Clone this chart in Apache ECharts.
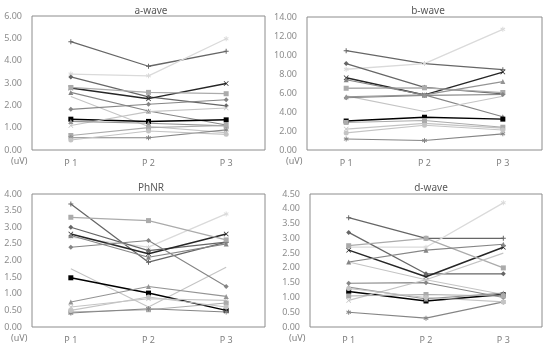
<!DOCTYPE html>
<html>
<head>
<meta charset="utf-8">
<script src="https://cdn.jsdelivr.net/npm/echarts@6/dist/echarts.min.js"></script>
<style>
  html, body { margin: 0; padding: 0; background: #ffffff; }
  #chart { width: 550px; height: 347px; }
</style>
</head>
<body>
<div id="chart"></div>
<script>
  // categories
  const points = ['P 1', 'P 2', 'P 3'];

  // one row per eye: values at P1, P2, P3 (uV)
  const aWave = [
    [4.85, 3.75, 4.42], [3.40, 3.32, 4.98], [3.27, 2.38, 1.98], [2.78, 2.30, 2.98],
    [2.80, 2.58, 2.52], [2.58, 1.75, 1.12], [2.40, 1.05, 0.78], [1.82, 2.05, 2.25],
    [1.38, 1.28, 1.35], [1.10, 1.72, 1.88], [1.28, 1.20, 1.08], [0.65, 1.00, 1.10],
    [0.55, 0.55, 0.90], [0.45, 0.85, 0.70]
  ];
  const bWave = [
    [10.45, 9.10, 8.45], [8.50, 9.10, 12.70], [9.10, 6.60, 5.90], [7.60, 5.80, 8.20],
    [6.50, 6.55, 6.05], [7.40, 5.80, 3.50], [5.70, 4.05, 5.65], [5.50, 5.75, 5.85],
    [3.05, 3.45, 3.25], [2.20, 2.80, 2.30], [5.60, 5.80, 7.20], [2.90, 3.10, 2.40],
    [1.15, 1.00, 1.70], [1.80, 2.60, 2.10]
  ];
  const phnr = [
    [3.70, 1.95, 2.55], [2.70, 2.40, 3.40], [3.00, 2.30, 2.55], [2.80, 2.20, 2.80],
    [3.30, 3.20, 2.62], [2.75, 2.10, 2.50], [1.75, 0.60, 1.80], [2.40, 2.60, 1.22],
    [1.48, 1.02, 0.50], [0.60, 0.85, 0.80], [0.75, 1.22, 0.92], [0.45, 0.52, 0.72],
    [0.42, 0.55, 0.45], [0.50, 0.90, 0.60]
  ];
  const dWave = [
    [3.70, 3.00, 3.00], [2.70, 2.70, 4.20], [3.20, 1.80, 1.80], [2.60, 1.70, 2.70],
    [2.75, 3.00, 2.00], [2.20, 2.60, 2.80], [2.20, 1.60, 2.50], [1.48, 1.50, 1.00],
    [1.20, 0.88, 1.10], [0.90, 1.60, 1.10], [1.35, 0.95, 1.15], [1.05, 1.10, 1.05],
    [0.50, 0.30, 0.85], [1.30, 1.00, 0.85]
  ];

  const plus = 'path://M4,0h2v4h4v2h-4v4h-2v-4h-4v-2h4z';
  const cross = 'path://M1,0L5,4L9,0L10,1L6,5L10,9L9,10L5,6L1,10L0,9L4,5L0,1z';
  const star = 'path://M4,0h2v3.5l3-2l1,1.7l-3,1.8l3,1.8l-1,1.7l-3-2v3.5h-2v-3.5l-3,2l-1-1.7l3-1.8l-3-1.8l1-1.7l3,2z';

  const lineColors = ['#666666', '#dadada', '#666666', '#262626', '#ababab', '#858585', '#c4c4c4',
                      '#858585', '#000000', '#c4c4c4', '#949494', '#ababab', '#858585', '#c4c4c4'];
  const lineSymbols = [plus, star, 'diamond', cross, 'rect', 'triangle', 'none',
                       'diamond', 'rect', cross, 'triangle', 'rect', star, 'circle'];
  const lineWidths = [1.3, 1.3, 1.3, 1.5, 1.3, 1.1, 1.1, 1.1, 1.5, 1.1, 1.1, 1.1, 1.1, 1.1];

  const panels = [
    { title: 'a-wave', rows: aWave, max: 6, step: 1, grid: { left: 32, right: 285, top: 16, bottom: 197 }, tx: 146, ty: 1 },
    { title: 'b-wave', rows: bWave, max: 14, step: 2, grid: { left: 307, right: 8, top: 17, bottom: 197 }, tx: 423, ty: 1 },
    { title: 'PhNR', rows: phnr, max: 4, step: 0.5, grid: { left: 32, right: 285, top: 194, bottom: 20 }, tx: 146, ty: 178 },
    { title: 'd-wave', rows: dWave, max: 4.5, step: 0.5, grid: { left: 310, right: 8, top: 194, bottom: 20 }, tx: 426, ty: 178 }
  ];

  const chart = echarts.init(document.getElementById('chart'));

  const grids = [], xAxes = [], yAxes = [], titles = [], series = [], texts = [];

  panels.forEach((p, i) => {
    grids.push(Object.assign({ show: true, borderColor: '#8c8c8c', borderWidth: 1, backgroundColor: '#fff' }, p.grid));
    titles.push({
      text: p.title, left: p.tx, top: p.ty, textAlign: 'center',
      textStyle: { fontSize: 10, fontWeight: 'normal', color: '#595959', fontFamily: 'Noto Sans' }
    });
    xAxes.push({
      type: 'category', gridIndex: i, data: points, boundaryGap: true,
      axisLine: { show: false }, axisTick: { show: false },
      axisLabel: { color: '#7f7f7f', fontSize: 9, margin: 9, fontFamily: 'Noto Sans' }
    });
    yAxes.push({
      type: 'value', gridIndex: i, min: 0, max: p.max, interval: p.step,
      axisLine: { show: false }, axisTick: { show: false }, splitLine: { show: false },
      axisLabel: { color: '#8c8c8c', fontSize: 9, margin: 10, fontFamily: 'Noto Sans',
                   formatter: v => v.toFixed(2) }
    });
    p.rows.forEach((row, k) => {
      series.push({
        type: 'line', xAxisIndex: i, yAxisIndex: i, data: row,
        symbol: lineSymbols[k], symbolSize: 5, showSymbol: true,
        lineStyle: { color: lineColors[k], width: lineWidths[k] },
        itemStyle: { color: lineColors[k] },
        animation: false
      });
    });
    texts.push({
      type: 'text', left: p.grid.left - 21, top: 347 - p.grid.bottom + 7,
      style: { text: '(uV)', fill: '#7f7f7f', font: '9px "Noto Sans"' }
    });
  });

  chart.setOption({
    animation: false,
    title: titles,
    grid: grids,
    xAxis: xAxes,
    yAxis: yAxes,
    series: series,
    graphic: texts
  });
</script>
</body>
</html>
